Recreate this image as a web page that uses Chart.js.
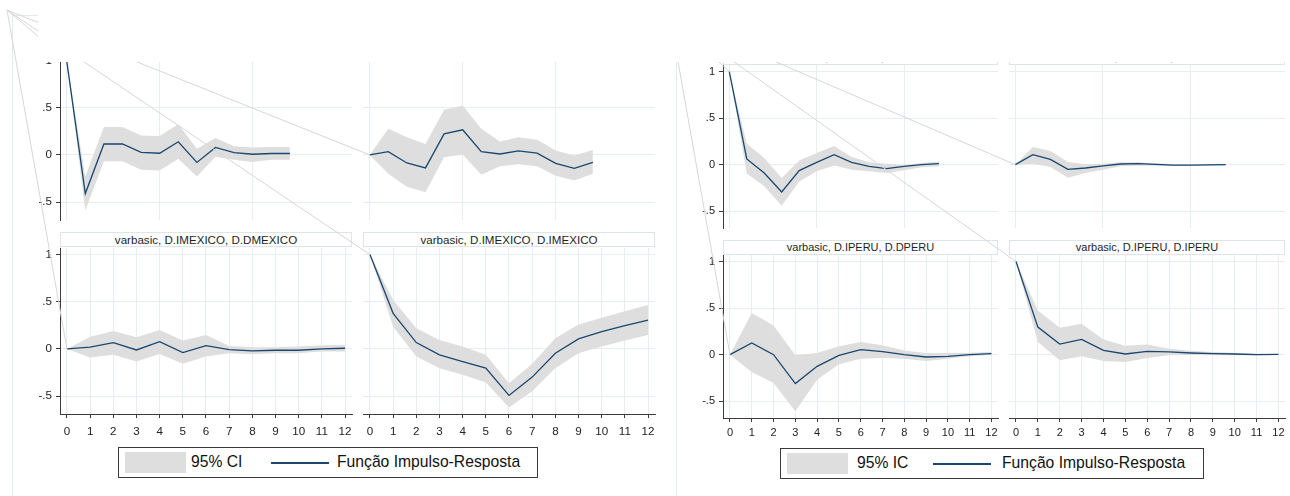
<!DOCTYPE html>
<html>
<head>
<meta charset="utf-8">
<title>Funções Impulso-Resposta: México e Peru</title>
<script src="https://cdn.jsdelivr.net/npm/chart.js@4.4.1/dist/chart.umd.min.js"></script>
<style>
  html, body { margin: 0; padding: 0; background: #fff; }
  #page { position: relative; width: 1290px; height: 496px; overflow: hidden; background: #fff;
          font-family: "Liberation Sans", Arial, sans-serif; }
  #page canvas { position: absolute; }
  .strip { position: absolute; box-sizing: border-box; border: 1px solid #dce6ea; background: #fff;
           font-family: "Liberation Sans", Arial, sans-serif; color: #1e1e1e; text-align: center;
           white-space: nowrap; z-index: 2; }
  .frame { position: absolute; background: #e3eaed; z-index: 1; }
  .legend { position: absolute; box-sizing: border-box; border: 1px solid #3a3a3a; background: #fff;
            font-size: 15.7px; color: #111; z-index: 2; }
  .legend .sw { position: absolute; background: #dedede; }
  .legend .ln { position: absolute; height: 2px; background: #1a476f; }
  .legend .tx { position: absolute; white-space: nowrap; line-height: 18px; }
  #mask { position: absolute; left: 38px; top: 0; width: 1252px; height: 62px; background: #fff; z-index: 5; }
  #links { z-index: 3; }
</style>
</head>
<body>
<div id="page">
  <div class="frame" style="left:12px;top:15px;width:1px;height:481px;"></div>
  <div class="frame" style="left:12px;top:15px;width:664px;height:1px;"></div>
  <div class="frame" style="left:676px;top:15px;width:1px;height:481px;"></div>

  <div class="legend" style="left:118px;top:447px;width:420px;height:31px;">
    <div class="sw" style="left:6px;top:4px;width:61px;height:21px;"></div>
    <div class="tx" style="left:72px;top:5px;">95% CI</div>
    <div class="ln" style="left:152px;top:14px;width:58px;"></div>
    <div class="tx" style="left:218px;top:5px;">Função Impulso-Resposta</div>
  </div>
  <div class="legend" style="left:780px;top:448px;width:424px;height:31px;">
    <div class="sw" style="left:6px;top:4px;width:61px;height:21px;"></div>
    <div class="tx" style="left:76px;top:5px;">95% IC</div>
    <div class="ln" style="left:152px;top:14px;width:58px;"></div>
    <div class="tx" style="left:221px;top:5px;">Função Impulso-Resposta</div>
  </div>

  <div id="mask"></div>
</div>

<script>
// Horizon (steps after the shock) and the y-axis ticks shared by every panel
const steps = [0, 1, 2, 3, 4, 5, 6, 7, 8, 9, 10, 11, 12];
const yTickValues = [-0.5, 0, 0.5, 1];
const yTickLabels = ['-.5', '0', '.5', '1'];
const topGridSteps = [0, 5, 10];

// México — impulse D.DMEXICO, response D.DMEXICO
const mxDD_irf = [1.00, -0.41, 0.116, 0.116, 0.028, 0.018, 0.14, -0.08, 0.08, 0.025, 0.007, 0.015, 0.015];
const mxDD_lo  = [1.00, -0.59, -0.066, -0.066, -0.158, -0.165, -0.04, -0.23, -0.02, -0.05, -0.076, -0.05, -0.05];
const mxDD_hi  = [1.00, -0.23, 0.295, 0.295, 0.207, 0.20, 0.325, 0.066, 0.18, 0.093, 0.08, 0.085, 0.085];

// México — impulse D.DMEXICO, response D.IMEXICO
const mxDI_irf = [0, 0.035, -0.085, -0.138, 0.223, 0.266, 0.035, 0.01, 0.043, 0.018, -0.089, -0.142, -0.078];
const mxDI_lo  = [0, -0.20, -0.337, -0.397, -0.025, 0.004, -0.21, -0.12, -0.10, -0.12, -0.22, -0.27, -0.20];
const mxDI_hi  = [0, 0.277, 0.188, 0.117, 0.479, 0.525, 0.277, 0.142, 0.188, 0.16, 0.046, -0.007, 0.053];

// México — impulse D.IMEXICO, response D.DMEXICO
const mxID_irf = [0, 0.018, 0.067, -0.011, 0.077, -0.039, 0.035, -0.007, -0.021, -0.014, -0.014, 0, 0.007];
const mxID_lo  = [0, -0.092, -0.063, -0.134, -0.053, -0.158, -0.081, -0.046, -0.056, -0.046, -0.046, -0.028, -0.028];
const mxID_hi  = [0, 0.13, 0.19, 0.123, 0.20, 0.088, 0.148, 0.032, 0.018, 0.018, 0.025, 0.039, 0.042];

// México — impulse D.IMEXICO, response D.IMEXICO
const mxII_irf = [1.00, 0.377, 0.067, -0.063, -0.134, -0.204, -0.493, -0.299, -0.046, 0.106, 0.183, 0.246, 0.306];
const mxII_lo  = [1.00, 0.236, -0.081, -0.204, -0.275, -0.356, -0.62, -0.45, -0.204, -0.046, 0.025, 0.088, 0.148];
const mxII_hi  = [1.00, 0.518, 0.218, 0.095, 0.025, -0.063, -0.363, -0.158, 0.113, 0.26, 0.33, 0.40, 0.465];

// Peru — impulse D.DPERU, response D.DPERU
const peDD_irf = [1.00, 0.061, -0.089, -0.293, -0.064, 0.025, 0.107, 0.025, -0.018, -0.043, -0.018, 0.0, 0.011];
const peDD_lo  = [1.00, -0.096, -0.232, -0.44, -0.18, -0.07, -0.01, -0.054, -0.07, -0.089, -0.06, -0.029, -0.018];
const peDD_hi  = [1.00, 0.225, 0.071, -0.143, 0.046, 0.125, 0.20, 0.082, 0.025, 0.011, -0.007, 0.018, 0.032];

// Peru — impulse D.DPERU, response D.IPERU
const peDI_irf = [0, 0.107, 0.057, -0.05, -0.036, -0.014, 0.007, 0.011, 0.004, -0.004, -0.004, -0.003, 0.0];
const peDI_lo  = [0, 0.011, -0.025, -0.14, -0.09, -0.054, -0.018, -0.011, -0.011, -0.014, -0.009, -0.008, -0.005];
const peDI_hi  = [0, 0.19, 0.146, 0.029, 0.004, 0.011, 0.025, 0.025, 0.014, 0.007, 0.005, 0.004, 0.005];

// Peru — impulse D.IPERU, response D.DPERU
const peID_irf = [0, 0.125, 0.0, -0.31, -0.125, -0.007, 0.054, 0.032, 0.0, -0.025, -0.018, 0.0, 0.011];
const peID_lo  = [0, -0.186, -0.304, -0.607, -0.268, -0.104, -0.043, -0.036, -0.043, -0.068, -0.043, -0.018, -0.004];
const peID_hi  = [0, 0.446, 0.314, -0.007, 0.018, 0.089, 0.136, 0.10, 0.046, 0.018, 0.018, 0.021, 0.029];

// Peru — impulse D.IPERU, response D.IPERU
const peII_irf = [1.00, 0.296, 0.114, 0.164, 0.046, 0.007, 0.036, 0.029, 0.018, 0.011, 0.007, 0.0, 0.004];
const peII_lo  = [1.00, 0.136, -0.061, -0.018, -0.068, -0.079, -0.036, -0.007, -0.004, -0.007, -0.007, -0.007, -0.004];
const peII_hi  = [1.00, 0.475, 0.289, 0.332, 0.164, 0.096, 0.11, 0.064, 0.043, 0.029, 0.021, 0.011, 0.007];

// Panel titles (irf name, impulse, response)
const mxTitles = ['varbasic, D.IMEXICO, D.DMEXICO', 'varbasic, D.IMEXICO, D.IMEXICO'];
const peTitles = ['varbasic, D.DPERU, D.DPERU', 'varbasic, D.DPERU, D.IPERU',
                  'varbasic, D.IPERU, D.DPERU', 'varbasic, D.IPERU, D.IPERU'];

// ---- styling ----
const NAVY = '#1a476f';
const BAND = '#dedede';
const GRID = '#e7eef1';
const AXIS = '#3c3c3c';
const FONT_FAMILY = '"Liberation Sans", Arial, sans-serif';
const FIG_FONT = [11.6, 11];   // the México figure is drawn slightly larger than the Peru one
const PAD = 16;      // spare room round each canvas, so Chart.js never shrinks the plot area
const Y_AXIS_W = 30;
const X_AXIS_H = 26;

const page = document.getElementById('page');

// Plot-area geometry of each panel: [left, top, width, height]
const panels = [
  // México
  { box: [60, 54, 292, 166],  x: [-0.36, 15.34], xt: topGridSteps, y: [-0.69, 1.07], yAxis: true,  xAxis: false, irf: mxDD_irf, lo: mxDD_lo, hi: mxDD_hi, fig: 0 },
  { box: [363, 54, 292, 166], x: [-0.36, 15.34], xt: topGridSteps, y: [-0.69, 1.07], yAxis: false, xAxis: false, irf: mxDI_irf, lo: mxDI_lo, hi: mxDI_hi, fig: 0 },
  { box: [60, 248, 292, 166], x: [-0.30, 12.30], xt: steps, y: [-0.69, 1.07], yAxis: true,  xAxis: true, irf: mxID_irf, lo: mxID_lo, hi: mxID_hi, fig: 0, title: mxTitles[0], strip: [232, 15], xPad: 7 },
  { box: [363, 248, 292, 166], x: [-0.30, 12.30], xt: steps, y: [-0.69, 1.07], yAxis: false, xAxis: true, irf: mxII_irf, lo: mxII_lo, hi: mxII_hi, fig: 0, title: mxTitles[1], strip: [232, 15], xPad: 7 },
  // Peru
  { box: [723, 65, 275, 163],  x: [-0.36, 15.38], xt: topGridSteps, y: [-0.68, 1.07], yAxis: true,  xAxis: false, irf: peDD_irf, lo: peDD_lo, hi: peDD_hi, fig: 1, title: peTitles[0], strip: [50, 15] },
  { box: [1009, 65, 276, 163], x: [-0.36, 15.38], xt: topGridSteps, y: [-0.68, 1.07], yAxis: false, xAxis: false, irf: peDI_irf, lo: peDI_lo, hi: peDI_hi, fig: 1, title: peTitles[1], strip: [50, 15] },
  { box: [723, 255, 275, 163], x: [-0.32, 12.30], xt: steps, y: [-0.68, 1.07], yAxis: true,  xAxis: true, irf: peID_irf, lo: peID_lo, hi: peID_hi, fig: 1, title: peTitles[2], strip: [240, 15], xPad: 4 },
  { box: [1009, 255, 276, 163], x: [-0.32, 12.30], xt: steps, y: [-0.68, 1.07], yAxis: false, xAxis: true, irf: peII_irf, lo: peII_lo, hi: peII_hi, fig: 1, title: peTitles[3], strip: [240, 15], xPad: 4 }
];

const toPoints = vals => steps.map((s, i) => ({ x: s, y: vals[i] }));

function makePanel(p) {
  const [left, top, w, h] = p.box;
  const yW = p.yAxis ? Y_AXIS_W : 0;
  const xH = p.xAxis ? X_AXIS_H : 0;
  const cw = PAD + yW + w + PAD;
  const ch = PAD + h + xH + PAD;
  const fontSize = FIG_FONT[p.fig];
  const tickFont = { family: FONT_FAMILY, size: fontSize };

  const cv = document.createElement('canvas');
  cv.width = cw; cv.height = ch;
  cv.style.width = cw + 'px'; cv.style.height = ch + 'px';
  cv.style.left = (left - PAD - yW) + 'px';
  cv.style.top = (top - PAD) + 'px';
  page.appendChild(cv);

  if (p.title) {
    const s = document.createElement('div');
    s.className = 'strip';
    s.style.left = left + 'px';
    s.style.top = p.strip[0] + 'px';
    s.style.width = w + 'px';
    s.style.height = p.strip[1] + 'px';
    s.style.fontSize = fontSize + 'px';
    s.style.lineHeight = (p.strip[1] - 2) + 'px';
    s.textContent = p.title;
    page.appendChild(s);
  }

  const chart = new Chart(cv, {
    type: 'line',
    data: {
      datasets: [
        { data: toPoints(p.lo), borderWidth: 0, pointRadius: 0, fill: false, order: 2 },
        { data: toPoints(p.hi), borderWidth: 0, pointRadius: 0, fill: '-1', backgroundColor: BAND, order: 1 },
        { data: toPoints(p.irf), borderColor: NAVY, borderWidth: 1.3, pointRadius: 0, fill: false, tension: 0, order: 0 }
      ]
    },
    options: {
      responsive: false,
      animation: false,
      devicePixelRatio: 1,
      layout: { padding: PAD },
      events: [],
      plugins: { legend: { display: false }, tooltip: { enabled: false } },
      scales: {
        x: {
          type: 'linear',
          min: p.x[0], max: p.x[1],
          afterBuildTicks: s => { s.ticks = p.xt.map(v => ({ value: v })); },
          afterFit: s => { s.height = xH; },
          grid: { color: GRID, lineWidth: 1, drawTicks: p.xAxis, tickLength: 4, tickColor: AXIS },
          border: { display: p.xAxis, color: AXIS, width: 1 },
          ticks: { display: p.xAxis, font: tickFont, color: '#222', padding: p.xPad || 4, maxRotation: 0, autoSkip: false,
                   callback: v => String(v) }
        },
        y: {
          type: 'linear',
          min: p.y[0], max: p.y[1],
          afterBuildTicks: s => { s.ticks = yTickValues.map(v => ({ value: v })); },
          afterFit: s => { s.width = yW; },
          grid: { color: GRID, lineWidth: 1, drawTicks: p.yAxis, tickLength: 4, tickColor: AXIS },
          border: { display: p.yAxis, color: AXIS, width: 1 },
          ticks: { display: p.yAxis, font: tickFont, color: '#222', padding: 4, autoSkip: false,
                   callback: v => yTickLabels[yTickValues.indexOf(v)] }
        }
      }
    }
  });
  return { chart, offX: left - PAD - yW, offY: top - PAD, p };
}

const built = panels.map(makePanel);

// Thin grey guide lines that run from each figure's corner to the first point of every response
const corners = [[7, 10], [670, 16.5]];
const links = document.createElement('canvas');
links.id = 'links';
links.width = 1290; links.height = 496;
links.style.left = '0px'; links.style.top = '0px';
page.appendChild(links);
const g = links.getContext('2d');
g.strokeStyle = '#d6d6d6';
g.lineWidth = 1;
built.forEach(b => {
  const c = b.chart;
  const px = b.offX + c.scales.x.getPixelForValue(steps[0]);
  const py = b.offY + c.scales.y.getPixelForValue(b.p.irf[0]);
  const [cx, cy] = corners[b.p.fig];
  g.beginPath();
  g.moveTo(cx, cy);
  g.lineTo(px, py);
  g.stroke();
});
</script>
</body>
</html>
